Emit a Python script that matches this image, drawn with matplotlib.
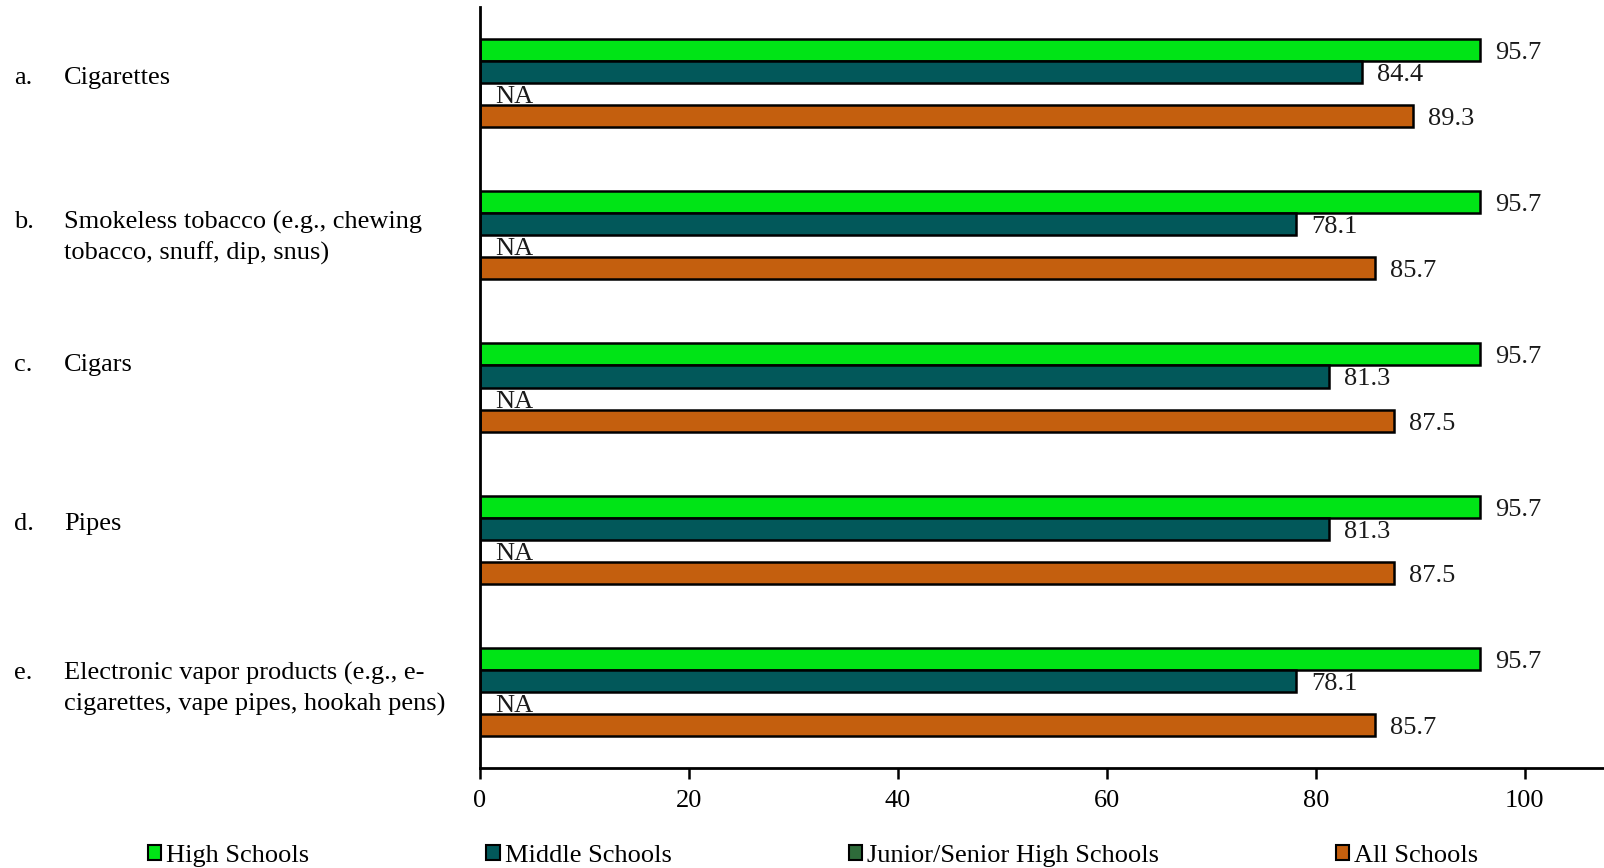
import matplotlib
matplotlib.use("Agg")
import matplotlib.pyplot as plt
import numpy as np
from matplotlib.patches import Patch

categories = [
    "Cigarettes",
    "Smokeless tobacco (e.g., chewing\ntobacco, snuff, dip, snus)",
    "Cigars",
    "Pipes",
    "Electronic vapor products (e.g., e-\ncigarettes, vape pipes, hookah pens)",
]
letters = ["a.", "b.", "c.", "d.", "e."]
series_names = ["High Schools", "Middle Schools", "Junior/Senior High Schools", "All Schools"]
high = [95.7, 95.7, 95.7, 95.7, 95.7]
middle = [84.4, 78.1, 81.3, 81.3, 78.1]
junior = [None, None, None, None, None]  # NA
all_schools = [89.3, 85.7, 87.5, 87.5, 85.7]
xticks = [0, 20, 40, 60, 80, 100]

colors = ["#00E416", "#02585A", "#2E6B3A", "#C45F0E"]

plt.rcParams['font.family'] = ['Liberation Serif', 'DejaVu Serif']
W, H = 1604, 868
fig = plt.figure(figsize=(W / 100, H / 100), dpi=100)
ax = fig.add_axes([480 / W, 1 - 768 / H, 1 - 480 / W, (768 - 7) / H])

fs = 19
bh = 0.145
y = np.arange(len(categories))
series = [high, middle, junior, all_schools]
offsets = [-1.5, -0.5, 0.5, 1.5]
for s, vals, col, off in zip(series_names, series, colors, offsets):
    v = [0 if x is None else x for x in vals]
    ax.barh(y + off * bh, v, height=bh, color=col, edgecolor="black", linewidth=1.8,
            label=s, zorder=2)
    for yi, x in zip(y, vals):
        txt = "NA" if x is None else f"{x:.1f}"
        ax.annotate(txt, xy=(0 if x is None else x, yi + off * bh), xytext=(15, -3),
                    textcoords="offset pixels",
                    ha="left", va="center", fontsize=fs, color="#1a1a1a")

ax.set_ylim(4.5, -0.5)
ax.set_xlim(0, 107.6)
ax.set_yticks([])
ax.set_xticks(xticks)
ax.set_xticklabels([str(t) for t in xticks], fontsize=fs)
ax.tick_params(axis="x", direction="out", length=8, width=1.8, pad=8)
for side in ["top", "right"]:
    ax.spines[side].set_visible(False)
for side in ["left", "bottom"]:
    ax.spines[side].set_linewidth(2)

first_line_px = [78, 222, 365, 524, 673]
line_step = 31.5
for let, cat, yp in zip(letters, categories, first_line_px):
    fig.text(14 / W, 1 - yp / H, let, ha="left", va="center", fontsize=fs)
    for i, line in enumerate(cat.split("\n")):
        fig.text(64 / W, 1 - (yp + i * line_step) / H, line, ha="left", va="center",
                 fontsize=fs)

handles = [Patch(facecolor=c, edgecolor="black", linewidth=1.5) for c in colors]
fig.legend(handles, series_names, loc="center left", bbox_to_anchor=(148 / W, 1 - 856 / H),
           ncol=4, frameon=False, fontsize=fs, handlelength=0.5, handleheight=0.5,
           handletextpad=0.2, columnspacing=6.7, borderaxespad=0, borderpad=0)

fig.savefig("out.png", dpi=100)
